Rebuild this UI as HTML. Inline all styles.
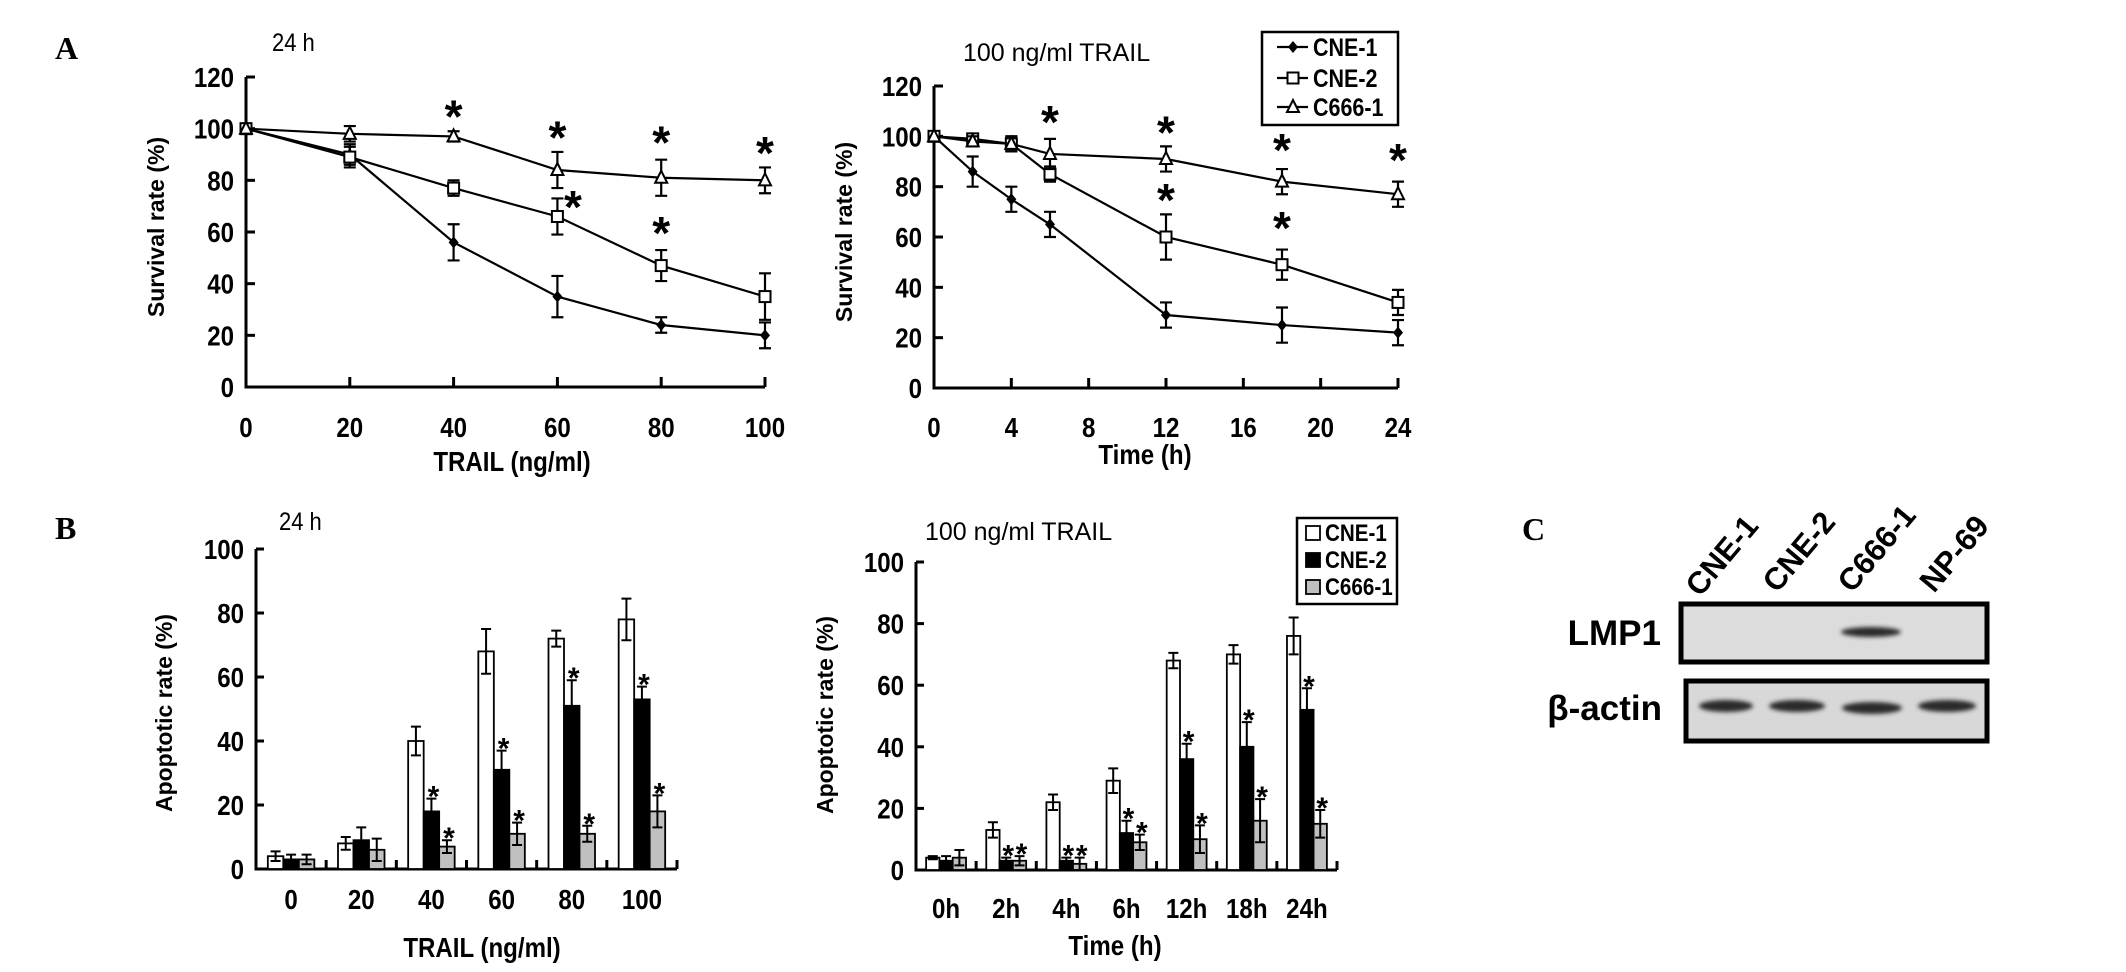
<!DOCTYPE html>
<html><head><meta charset="utf-8"><style>
html,body{margin:0;padding:0;background:#fff;overflow:hidden;}
svg{display:block;font-family:"Liberation Sans",Arial,sans-serif;}
</style></head><body>
<svg id="fig" width="2126" height="972" viewBox="0 0 2126 972" xmlns="http://www.w3.org/2000/svg">
<defs><filter id="blur" x="-20%" y="-60%" width="140%" height="220%"><feGaussianBlur stdDeviation="2"/></filter></defs>
<text x="55" y="59" font-family="Liberation Serif" font-weight="bold" font-size="32">A</text>
<text x="55" y="539" font-family="Liberation Serif" font-weight="bold" font-size="32">B</text>
<text x="1522" y="540" font-family="Liberation Serif" font-weight="bold" font-size="32">C</text>
<g id="a1"></g>
<g id="a2"></g>
<g id="b1"></g>
<g id="b2"></g>
<g id="blot">
  <rect x="1681" y="604" width="306" height="58" fill="#dcdcdc" stroke="#000" stroke-width="5"/>
  <rect x="1686" y="681" width="301" height="60" fill="#d8d8d8" stroke="#000" stroke-width="5"/>
  <ellipse cx="1871" cy="632" rx="30" ry="5" fill="#2a2a2a" filter="url(#blur)"/>
  <ellipse cx="1726" cy="706" rx="27" ry="6" fill="#2a2a2a" filter="url(#blur)"/>
  <ellipse cx="1797" cy="706" rx="28" ry="6" fill="#2a2a2a" filter="url(#blur)"/>
  <ellipse cx="1872" cy="708" rx="30" ry="6" fill="#2a2a2a" filter="url(#blur)"/>
  <ellipse cx="1947" cy="706" rx="29" ry="6" fill="#2a2a2a" filter="url(#blur)"/>
  <text x="1661" y="645" text-anchor="end" font-weight="bold" font-size="35">LMP1</text>
  <text x="1662" y="720" text-anchor="end" font-weight="bold" font-size="35">β-actin</text>
  <text transform="translate(1700,598) rotate(-50)" font-weight="bold" font-size="31">CNE-1</text>
  <text transform="translate(1777,594) rotate(-50)" font-weight="bold" font-size="31">CNE-2</text>
  <text transform="translate(1852,594) rotate(-50)" font-weight="bold" font-size="31">C666-1</text>
  <text transform="translate(1934,594) rotate(-50)" font-weight="bold" font-size="31">NP-69</text>
</g>
</svg>
<script>
// ---- Chart A1 data ----
const a1X = [0,20,40,60,80,100];
const a1Cne1 = [100,90,56,35,24,20];
const a1Cne1Err = [0,4,7,8,3,5];
const a1Cne2 = [100,89,77,66,47,35];
const a1Cne2Err = [0,4,3,7,6,9];
const a1C666 = [100,98,97,84,81,80];
const a1C666Err = [0,3,2,7,7,5];
const a1StarX = [40,60,63,80,80,100];
const a1StarY = [107,99,72,97,62,93];
const a1XTicks = [0,20,40,60,80,100];
const a1YTicks = [0,20,40,60,80,100,120];
// ---- Chart A2 data ----
const a2X = [0,2,4,6,12,18,24];
const a2Cne1 = [100,86,75,65,29,25,22];
const a2Cne1Err = [0,6,5,5,5,7,5];
const a2Cne2 = [100,99,97,85,60,49,34];
const a2Cne2Err = [0,1,3,3,9,6,5];
const a2C666 = [100,98,97,93,91,82,77];
const a2C666Err = [0,2,3,6,5,5,5];
const a2StarX = [6,12,12,18,18,24];
const a2StarY = [108,104,77,97,66,93];
const a2XTicks = [0,4,8,12,16,20,24];
const a2YTicks = [0,20,40,60,80,100,120];
// ---- Chart B1 data ----
const b1Cats = ["0","20","40","60","80","100"];
const b1Cne1 = [4,8,40,68,72,78];
const b1Cne1Err = [1.5,2,4.5,7,2.5,6.5];
const b1Cne2 = [3,9,18,31,51,53];
const b1Cne2Err = [1.5,4,4,6,8,4];
const b1C666 = [3,6,7,11,11,18];
const b1C666Err = [1.5,3.5,2,3.5,2.5,5];
const b1StarCne2 = [false,false,true,true,true,true];
const b1StarC666 = [false,false,true,true,true,true];
const b1YTicks = [0,20,40,60,80,100];
// ---- Chart B2 data ----
const b2Cats = ["0h","2h","4h","6h","12h","18h","24h"];
const b2Cne1 = [4,13,22,29,68,70,76];
const b2Cne1Err = [0.5,2.5,2.5,4,2.5,3,6];
const b2Cne2 = [3,3,3,12,36,40,52];
const b2Cne2Err = [1.5,1,1,4,5,8,7];
const b2C666 = [4,3,2,9,10,16,15];
const b2C666Err = [2.5,1.5,2,2.5,4.5,7,4.5];
const b2StarCne2 = [false,true,true,true,true,true,true];
const b2StarC666 = [false,true,true,true,true,true,true];
const b2YTicks = [0,20,40,60,80,100];

const NS = "http://www.w3.org/2000/svg";
function mk(parent, tag, attrs){
  const e = document.createElementNS(NS, tag);
  for (const k in attrs) e.setAttribute(k, attrs[k]);
  parent.appendChild(e);
  return e;
}
function narrow(parent, str, x, y, size, anchor, name){
  const t = mk(parent, "text", {transform:`translate(${x},${y}) scale(0.86,1)`, "text-anchor":anchor, "font-weight":"bold", "font-size":size});
  
  
  t.textContent = str;
  return t;
}
function linScale(d0,d1,r0,r1){ return v => r0 + (v-d0)/(d1-d0)*(r1-r0); }

function marker(g,m,X,Y){
  let e;
  if (m==="diamond") e = mk(g,"polygon",{points:`${X},${Y-6} ${X+5},${Y} ${X},${Y+6} ${X-5},${Y}`,fill:"#000"});
  else if (m==="square") e = mk(g,"rect",{x:X-5.5,y:Y-5.5,width:11,height:11,fill:"#fff",stroke:"#000","stroke-width":2});
  else e = mk(g,"polygon",{points:`${X},${Y-7} ${X+6},${Y+5} ${X-6},${Y+5}`,fill:"#fff",stroke:"#000","stroke-width":2});
  
  
}

function lineChart(g, cfg){
  const sx = linScale(cfg.xmin,cfg.xmax,cfg.x0,cfg.x1);
  const sy = linScale(0,cfg.ymax,cfg.y0,cfg.y1);
  const ax = mk(g,"path",{d:`M${cfg.x0},${cfg.y1} V${cfg.y0} H${cfg.x1}`,fill:"none",stroke:"#000","stroke-width":3});
  
  
  cfg.yTicks.forEach(v=>{
    const t = mk(g,"line",{x1:cfg.x0,x2:cfg.x0+9,y1:sy(v),y2:sy(v),stroke:"#000","stroke-width":3});
    
    
    narrow(g,String(v),cfg.x0-12,sy(v)+10,28,"end","y-tick-label");
  });
  cfg.xTicks.forEach(v=>{
    const t = mk(g,"line",{x1:sx(v),x2:sx(v),y1:cfg.y0,y2:cfg.y0-10,stroke:"#000","stroke-width":3});
    
    
    narrow(g,String(v),sx(v),cfg.labelY,28,"middle","x-tick-label");
  });
  cfg.series.forEach(s=>{
    const sg = mk(g,"g",{});
    
    
    const pts = cfg.x.map((xv,i)=>`${sx(xv)},${sy(s.v[i])}`).join(" ");
    const pl = mk(sg,"polyline",{points:pts,fill:"none",stroke:"#000","stroke-width":2.2});
    
    
    cfg.x.forEach((xv,i)=>{
      const X = sx(xv), Y = sy(s.v[i]), e = s.e[i];
      if (e>0){
        const eb = mk(sg,"path",{d:`M${X},${sy(s.v[i]+e)} V${sy(s.v[i]-e)} M${X-6},${sy(s.v[i]+e)} h12 M${X-6},${sy(s.v[i]-e)} h12`,stroke:"#000","stroke-width":2.2,fill:"none"});
        
        
      }
      marker(sg,s.m,X,Y);
    });
  });
  cfg.starX.forEach((xv,i)=>{
    const t = mk(g,"text",{x:sx(xv),y:sy(cfg.starY[i])+22,"text-anchor":"middle","font-weight":"bold","font-size":46});
    
    
    t.textContent="*";
  });
}

function barChart(g, cfg){
  const sy = linScale(0,100,cfg.y0,cfg.y1);
  const n = cfg.cats.length, gw = (cfg.x1-cfg.x0)/n;
  const ax = mk(g,"path",{d:`M${cfg.x0},${cfg.y1} V${cfg.y0} H${cfg.x1}`,fill:"none",stroke:"#000","stroke-width":3});
  
  
  cfg.yTicks.forEach(v=>{
    const t = mk(g,"line",{x1:cfg.x0,x2:cfg.x0+8,y1:sy(v),y2:sy(v),stroke:"#000","stroke-width":3});
    
    
    narrow(g,String(v),cfg.x0-12,sy(v)+10,28,"end","y-tick-label");
  });
  for (let i=1;i<=n;i++){
    const t = mk(g,"line",{x1:cfg.x0+i*gw,x2:cfg.x0+i*gw,y1:cfg.y0,y2:cfg.y0-9,stroke:"#000","stroke-width":3});
    
    
  }
  const bw = cfg.bw, pad = (gw-3*bw)/2;
  const fills = ["#fff","#000","#c0c0c0"];
  cfg.cats.forEach((c,i)=>{
    const gx = cfg.x0+i*gw+pad;
    narrow(g,c,gx+1.5*bw,cfg.labelY,28,"middle","x-tick-label");
    cfg.series.forEach((s,k)=>{
      const X = gx+k*bw, v=s.v[i], e=s.e[i];
      const r = mk(g,"rect",{x:X,y:sy(v),width:bw,height:cfg.y0-sy(v),fill:fills[k],stroke:"#000","stroke-width":1.8});
      
      
      const cx = X+bw/2;
      const eb = mk(g,"path",{d:`M${cx},${sy(v+e)} V${sy(Math.max(0,v-e))} M${cx-5},${sy(v+e)} h10 M${cx-5},${sy(Math.max(0,v-e))} h10`,stroke:"#000","stroke-width":2,fill:"none"});
      
      
      if (s.star && s.star[i]){
        const t = mk(g,"text",{x:cx+2,y:sy(v+e)+8,"text-anchor":"middle","font-weight":"bold","font-size":30});
        
        
        t.textContent="*";
      }
    });
  });
}
function label(g,str,x,y,size,name,opts){
  const t = mk(g,"text",Object.assign({x:x,y:y,"font-size":size},opts||{}));
  
  
  t.textContent = str;
  return t;
}

// A1
const A1 = document.getElementById("a1");
lineChart(A1,{x:a1X,xmin:0,xmax:100,x0:246,x1:765,ymax:120,y0:387,y1:77,labelY:437,
  xTicks:a1XTicks,yTicks:a1YTicks,starX:a1StarX,starY:a1StarY,
  series:[{name:"cne1",v:a1Cne1,e:a1Cne1Err,m:"diamond"},{name:"cne2",v:a1Cne2,e:a1Cne2Err,m:"square"},{name:"c666",v:a1C666,e:a1C666Err,m:"triangle"}]});
label(A1,"24 h",272,51,25,"chart-title",{transform:"translate(272,0) scale(0.88,1) translate(-272,0)"});
label(A1,"Survival rate  (%)",0,0,23,"y-axis-title",{transform:"translate(164,227) rotate(-90)","text-anchor":"middle","font-weight":"bold"});
narrow(A1,"TRAIL  (ng/ml)",512,471,28,"middle","x-axis-title");

// A2
const A2 = document.getElementById("a2");
lineChart(A2,{x:a2X,xmin:0,xmax:24,x0:934,x1:1398,ymax:120,y0:388,y1:86,labelY:437,
  xTicks:a2XTicks,yTicks:a2YTicks,starX:a2StarX,starY:a2StarY,
  series:[{name:"cne1",v:a2Cne1,e:a2Cne1Err,m:"diamond"},{name:"cne2",v:a2Cne2,e:a2Cne2Err,m:"square"},{name:"c666",v:a2C666,e:a2C666Err,m:"triangle"}]});
label(A2,"100 ng/ml TRAIL",963,61,25,"chart-title");
label(A2,"Survival rate  (%)",0,0,23,"y-axis-title",{transform:"translate(852,232) rotate(-90)","text-anchor":"middle","font-weight":"bold"});
narrow(A2,"Time  (h)",1145,464,28,"middle","x-axis-title");
const lg = mk(A2,"g",{});


const lb = mk(lg,"rect",{x:1262,y:32,width:136,height:93,fill:"#fff",stroke:"#000","stroke-width":2.5});


[["CNE-1","diamond",47],["CNE-2","square",78],["C666-1","triangle",107]].forEach(r=>{
  const l = mk(lg,"line",{x1:1277,x2:1308,y1:r[2],y2:r[2],stroke:"#000","stroke-width":2.2});
  
  
  marker(lg,r[1],1293,r[2]);
  narrow(lg,r[0],1313,r[2]+9,25,"start","legend-entry");
});

// B1
const B1 = document.getElementById("b1");
barChart(B1,{cats:b1Cats,x0:256,x1:677,y0:869,y1:549,bw:15.5,labelY:909,yTicks:b1YTicks,
  series:[{name:"cne1",v:b1Cne1,e:b1Cne1Err},{name:"cne2",v:b1Cne2,e:b1Cne2Err,star:b1StarCne2},{name:"c666",v:b1C666,e:b1C666Err,star:b1StarC666}]});
label(B1,"24 h",279,530,25,"chart-title",{transform:"translate(279,0) scale(0.88,1) translate(-279,0)"});
label(B1,"Apoptotic rate  (%)",0,0,23,"y-axis-title",{transform:"translate(172,713) rotate(-90)","text-anchor":"middle","font-weight":"bold"});
narrow(B1,"TRAIL  (ng/ml)",482,957,28,"middle","x-axis-title");

// B2
const B2 = document.getElementById("b2");
barChart(B2,{cats:b2Cats,x0:916,x1:1337,y0:870,y1:562,bw:13.3,labelY:918,yTicks:b2YTicks,
  series:[{name:"cne1",v:b2Cne1,e:b2Cne1Err},{name:"cne2",v:b2Cne2,e:b2Cne2Err,star:b2StarCne2},{name:"c666",v:b2C666,e:b2C666Err,star:b2StarC666}]});
label(B2,"100 ng/ml TRAIL",925,540,25,"chart-title");
label(B2,"Apoptotic rate  (%)",0,0,23,"y-axis-title",{transform:"translate(833,715) rotate(-90)","text-anchor":"middle","font-weight":"bold"});
narrow(B2,"Time  (h)",1115,955,28,"middle","x-axis-title");
const lg2 = mk(B2,"g",{});


const lb2 = mk(lg2,"rect",{x:1297,y:518,width:100,height:86,fill:"#fff",stroke:"#000","stroke-width":2.5});


[["CNE-1","#fff",533],["CNE-2","#000",560],["C666-1","#c0c0c0",587]].forEach(r=>{
  const s = mk(lg2,"rect",{x:1306,y:r[2]-7,width:14,height:14,fill:r[1],stroke:"#000","stroke-width":1.8});
  
  
  narrow(lg2,r[0],1325,r[2]+8,24,"start","legend-entry");
});
</script>
</body></html>
